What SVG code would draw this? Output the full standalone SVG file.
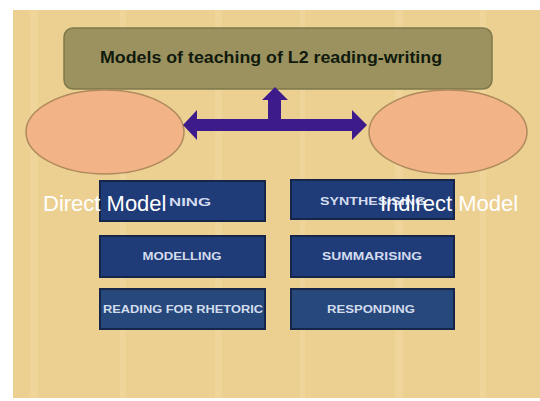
<svg xmlns="http://www.w3.org/2000/svg" width="540" height="401" viewBox="0 0 540 401">
<style>
.bg{fill:#ecd091}
.stripe{fill:#f3dba6;opacity:0.45}
.title{fill:#9b9260;stroke:#7f784b;stroke-width:1.5}
.ttxt{font-family:"Liberation Sans",Arial,sans-serif;font-weight:bold;font-size:16px;fill:#111a0c}
.oval{fill:#f2b486;stroke:#b08a5e;stroke-width:1.5}
.lbl{font-family:"Liberation Sans",Arial,sans-serif;font-size:22px;fill:#ffffff}
.box{fill:#1f3b78;stroke:#15264a;stroke-width:2}
.box2{fill:#27487a;stroke:#15264a;stroke-width:2}
.btxt{font-family:"Liberation Sans",Arial,sans-serif;font-weight:bold;font-size:11.5px;fill:#d3dcee}
.arrow{fill:#3d1b8b}
</style>
<rect x="0" y="0" width="540" height="401" fill="#ffffff"/>
<rect class="bg" x="13" y="10" width="527" height="388"/>
<rect class="stripe" x="30" y="10" width="8" height="388"/>
<rect class="stripe" x="120" y="10" width="6" height="388"/>
<rect class="stripe" x="215" y="10" width="7" height="388"/>
<rect class="stripe" x="300" y="10" width="5" height="388"/>
<rect class="stripe" x="395" y="10" width="8" height="388"/>
<rect class="stripe" x="480" y="10" width="6" height="388"/>
<g id="title">
<rect class="title" x="64" y="28" width="428" height="61" rx="9"/>
<text class="ttxt" x="271" y="63" text-anchor="middle" textLength="342" lengthAdjust="spacingAndGlyphs">Models of teaching of L2 reading-writing</text>
</g>
<g id="box-planning">
<rect class="box" x="100" y="181" width="165" height="40"/>
<text class="btxt" x="169" y="206" textLength="42" lengthAdjust="spacingAndGlyphs">NING</text>
</g>
<g id="box-synthesising">
<rect class="box" x="291" y="180" width="163" height="39"/>
<text class="btxt" x="320" y="205" textLength="106" lengthAdjust="spacingAndGlyphs">SYNTHESISING</text>
</g>
<g id="box-modelling">
<rect class="box" x="100" y="236" width="165" height="41"/>
<text class="btxt" x="182" y="260" text-anchor="middle" textLength="79" lengthAdjust="spacingAndGlyphs">MODELLING</text>
</g>
<g id="box-summarising">
<rect class="box" x="291" y="236" width="163" height="41"/>
<text class="btxt" x="372" y="260" text-anchor="middle" textLength="100" lengthAdjust="spacingAndGlyphs">SUMMARISING</text>
</g>
<g id="box-rhetoric">
<rect class="box2" x="100" y="289" width="165" height="40"/>
<text class="btxt" x="183" y="313" text-anchor="middle" textLength="160" lengthAdjust="spacingAndGlyphs">READING FOR RHETORIC</text>
</g>
<g id="box-responding">
<rect class="box2" x="291" y="289" width="163" height="40"/>
<text class="btxt" x="371" y="313" text-anchor="middle" textLength="88" lengthAdjust="spacingAndGlyphs">RESPONDING</text>
</g>
<g id="direct-model">
<ellipse class="oval" cx="105" cy="132" rx="79" ry="42"/>
<text class="lbl" x="43" y="211">Direct Model</text>
</g>
<g id="indirect-model">
<ellipse class="oval" cx="448" cy="132" rx="79" ry="42"/>
<text class="lbl" x="380" y="211">Indirect Model</text>
</g>
<g id="connectors">
<polygon class="arrow" points="183,125 197,110 197,119 268,119 268,100 262,100 275,87 288,100 281,100 281,119 352,119 352,110 367,125 352,140 352,131 197,131 197,140"/>
</g>
</svg>
